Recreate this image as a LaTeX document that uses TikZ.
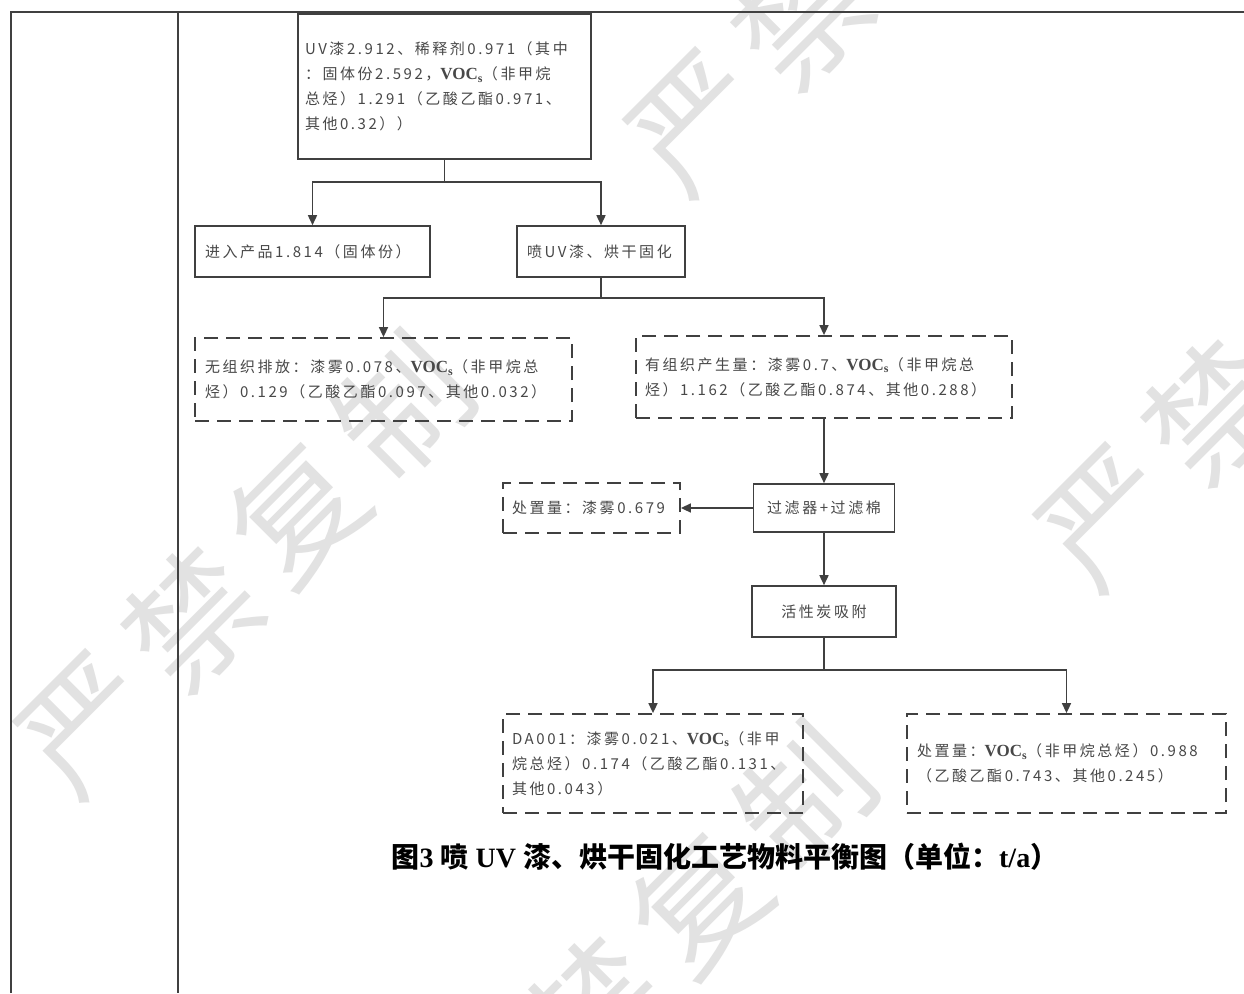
\documentclass[tikz,border=0pt]{standalone}
\usepackage{fontspec}
\usetikzlibrary{arrows.meta,calc}
\newfontfamily\cjk[LetterSpace=17]{Noto Sans CJK SC}
\newfontfamily\cjkcap{Noto Sans CJK SC}
\newfontfamily\wmfont{Noto Sans CJK SC}
\newfontfamily\tnr{Liberation Serif}
\newcommand\voc{{\tnr\bfseries\fontsize{17}{25}\selectfont VOC\textsubscript{s}}}
\definecolor{linec}{HTML}{404040}
\definecolor{textc}{HTML}{484848}
\definecolor{wmc}{HTML}{E2E2E2}
\tikzset{
  base/.style={draw=linec, line width=1.6pt, inner sep=0pt, align=left, text=textc,
    font=\cjk\fontsize{15}{25}\selectfont},
  solidbox/.style={base},
  dashbox/.style={base, line width=1.8pt, dash pattern=on 14pt off 8pt},
  arr/.style={draw=linec, line width=1.6pt, -{Triangle[length=10pt,width=9pt]}},
  conn/.style={draw=linec, line width=1.6pt},
  frame/.style={draw=linec, line width=2pt},
  wmstyle/.style={text=wmc, rotate=45, font=\wmfont\fontsize{130}{130}\selectfont, inner sep=0pt}
}
\begin{document}
\begin{tikzpicture}[x=1pt,y=-1pt]
\useasboundingbox[fill=white] (0,0) rectangle (1244,993);
% watermark
\foreach \c/\x/\y [count=\i] in {严/88/725, 禁/193/619, 复/298/513, 制/403/407, 严/698/123, 禁/803/17, 严/1108/518, 禁/1213/412, 禁/595/1009, 复/700/903, 制/805/797}
  \node[wmstyle] (wm\i) at (\x,\y) {\c};
% frame
\draw[frame] (11,993) -- (11,12) -- (1244,12);
\draw[frame] (178,12) -- (178,993);
% boxes
\node[solidbox, minimum width=293pt, minimum height=145pt, text width=279pt] (top) at (444.5,86.5)
  {UV漆2.912、稀释剂0.971（其中\\：固体份2.592，\voc（非甲烷\\总烃）1.291（乙酸乙酯0.971、\\其他0.32））};
\node[solidbox, minimum width=235pt, minimum height=51pt, text width=215pt] (prod) at (312.5,251.5)
  {进入产品1.814（固体份）};
\node[solidbox, minimum width=168pt, minimum height=51pt, text width=148pt] (spray) at (601,251.5)
  {喷UV漆、烘干固化};
\node[dashbox, minimum width=377pt, minimum height=83pt, text width=357pt] (fug) at (383.5,379.5)
  {无组织排放：漆雾0.078、\voc（非甲烷总\\烃）0.129（乙酸乙酯0.097、其他0.032）};
\node[dashbox, minimum width=376pt, minimum height=82pt, text width=358pt] (org) at (824,377)
  {有组织产生量：漆雾0.7、\voc（非甲烷总\\烃）1.162（乙酸乙酯0.874、其他0.288）};
\node[solidbox, minimum width=141pt, minimum height=48pt, align=center] (filter) at (824,508)
  {过滤器+过滤棉};
\node[dashbox, minimum width=177pt, minimum height=50pt, text width=159pt] (disp1) at (591.5,508)
  {处置量：漆雾0.679};
\node[solidbox, minimum width=144pt, minimum height=51pt, align=center] (carbon) at (824,611.5)
  {活性炭吸附};
\node[dashbox, minimum width=300pt, minimum height=99pt, text width=282pt] (da) at (653,763.5)
  {DA001：漆雾0.021、\voc（非甲\\烷总烃）0.174（乙酸乙酯0.131、\\其他0.043）};
\node[dashbox, minimum width=319pt, minimum height=99pt, text width=299pt] (disp2) at (1066.5,763.5)
  {处置量：\voc（非甲烷总烃）0.988\\（乙酸乙酯0.743、其他0.245）};
% caption
\node[inner sep=0pt, text=black, font=\cjkcap\bfseries\fontsize{28}{32}\selectfont] (cap) at (725,857)
  {图{\tnr\bfseries 3 }喷{\tnr\bfseries\ UV }漆、烘干固化工艺物料平衡图（单位：{\tnr\bfseries t/a}）};
% connectors
\coordinate (j1) at (444.5,182);
\draw[conn] (top.south) -- (j1);
\draw[arr] (j1) -| (prod.north);
\draw[arr] (j1) -| (spray.north);
\coordinate (j2) at (601,298);
\draw[conn] (spray.south) -- (j2);
\draw[arr] (j2) -| (fug.north);
\draw[arr] (j2) -| (org.north);
\draw[arr] (org.south) -- (filter.north);
\draw[arr] (filter.west) -- (disp1.east);
\draw[arr] (filter.south) -- (carbon.north);
\coordinate (j3) at (824,670);
\draw[conn] (carbon.south) -- (j3);
\draw[arr] (j3) -| (da.north);
\draw[arr] (j3) -| (disp2.north);
\end{tikzpicture}
\end{document}
